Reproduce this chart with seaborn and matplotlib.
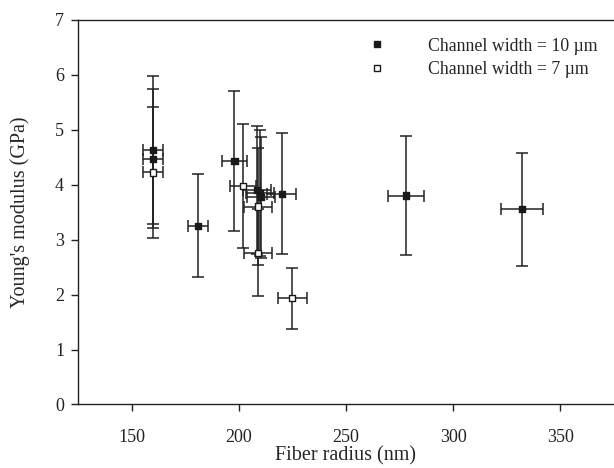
import matplotlib
matplotlib.use("Agg")
import matplotlib.pyplot as plt
import seaborn as sns
import pandas as pd
from matplotlib.lines import Line2D

# Channel width = 10 um
radius_10 = [160, 160, 181, 198, 208.5, 210, 210.5, 220, 278, 332]
modulus_10 = [4.63, 4.47, 3.25, 4.43, 3.90, 3.85, 3.77, 3.83, 3.80, 3.55]
yerr_10 = [1.34, 1.26, 0.94, 1.27, 1.16, 1.15, 1.10, 1.10, 1.08, 1.03]
xerr_10 = [4.8, 4.8, 4.7, 6.0, 6.5, 6.5, 6.5, 6.7, 8.3, 9.9]

# Channel width = 7 um
radius_7 = [160, 202, 209, 209, 225]
modulus_7 = [4.22, 3.97, 3.60, 2.76, 1.93]
yerr_7 = [1.19, 1.13, 1.07, 0.79, 0.56]
xerr_7 = [4.8, 6.2, 6.5, 6.5, 6.8]

labels = ["Channel width = 10 \u00b5m", "Channel width = 7 \u00b5m"]
x_ticks = [150, 200, 250, 300, 350]
y_ticks = [0, 1, 2, 3, 4, 5, 6, 7]

df = pd.concat([
    pd.DataFrame({"radius": radius_10, "modulus": modulus_10, "xerr": xerr_10,
                  "yerr": yerr_10, "group": labels[0]}),
    pd.DataFrame({"radius": radius_7, "modulus": modulus_7, "xerr": xerr_7,
                  "yerr": yerr_7, "group": labels[1]}),
], ignore_index=True)

sns.set_style("ticks")
plt.rcParams["font.family"] = ["Liberation Serif", "DejaVu Serif"]

fig = plt.figure(figsize=(6.14, 4.68), dpi=100)
ax = fig.add_axes([0.127, 0.1357, 0.873, 0.8224])

line_col = "#222222"
for g in labels:
    sub = df[df["group"] == g]
    ax.errorbar(sub["radius"], sub["modulus"], xerr=sub["xerr"], yerr=sub["yerr"],
                fmt="none", ecolor=line_col, elinewidth=1.1, capsize=4,
                capthick=1.1, zorder=2)

sns.scatterplot(data=df, x="radius", y="modulus", hue="group",
                palette={labels[0]: "#1a1a1a", labels[1]: "white"},
                marker="s", s=20, edgecolor="#1a1a1a", linewidth=1.0,
                legend=False, ax=ax, zorder=3)

ax.set_xlim(125, 375)
ax.set_ylim(0, 7)
ax.set_xticks(x_ticks)
ax.set_yticks(y_ticks)
ax.tick_params(axis="both", direction="out", length=5, width=1.0,
               labelsize=13, colors="#222222", pad=5)
ax.tick_params(axis="x", pad=13)
ax.set_xlabel("Fiber radius (nm)", fontsize=14.5, labelpad=0)
ax.set_ylabel("Young's modulus (GPa)", fontsize=14.5, labelpad=18)

for s in ["left", "bottom", "top"]:
    ax.spines[s].set_visible(True)
    ax.spines[s].set_linewidth(1.0)
    ax.spines[s].set_color("#222222")
ax.spines["right"].set_visible(False)

handles = [
    Line2D([], [], marker="s", linestyle="none", markersize=4,
           markerfacecolor="#1a1a1a", markeredgecolor="#1a1a1a"),
    Line2D([], [], marker="s", linestyle="none", markersize=4,
           markerfacecolor="white", markeredgecolor="#1a1a1a"),
]
ax.legend(handles, labels, loc="upper right", bbox_to_anchor=(1.0, 0.995),
          frameon=False, fontsize=12.8, handletextpad=1.9, labelspacing=0.35)

fig.savefig("out.png", dpi=100)
